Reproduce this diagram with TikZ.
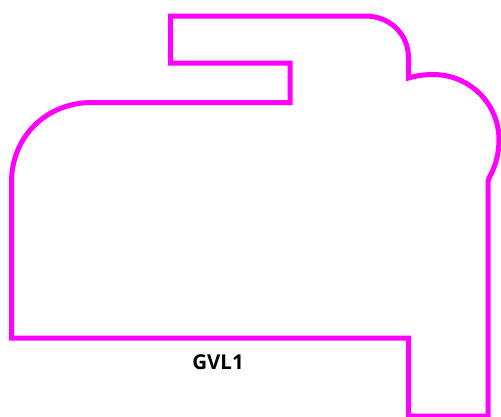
\documentclass[tikz,border=0pt]{standalone}
\usepackage{fontspec}
\setmainfont{Open Sans}
\definecolor{mag}{RGB}{255,0,255}
\begin{document}
\begin{tikzpicture}[x=1pt,y=-1pt,outline/.style={draw=mag,line width=5pt,line join=miter}]
\useasboundingbox (0,0) rectangle (501,416);
\draw[outline] (170.5,16) -- (365,16) .. controls (390,16) and (408.5,34) .. (408.5,58) -- (408.5,78)
 .. controls (417,75.5) and (425.5,74.5) .. (433,74.5) .. controls (469.5,74.5) and (499,103.5) .. (499,140)
 .. controls (499,152) and (496,166) .. (489.5,177) -- (488,181)
 -- (488,416) -- (408.5,416) -- (408.5,338) -- (11.5,338) -- (11.5,182)
 .. controls (11.5,137) and (46,102.5) .. (92,102.5) -- (290,102.5) -- (290,63) -- (170.5,63) -- cycle;
\node[font=\bfseries\fontsize{20.5pt}{24pt}\selectfont,text=black] (lbl) at (218,362) {GVL1};
\end{tikzpicture}
\end{document}
